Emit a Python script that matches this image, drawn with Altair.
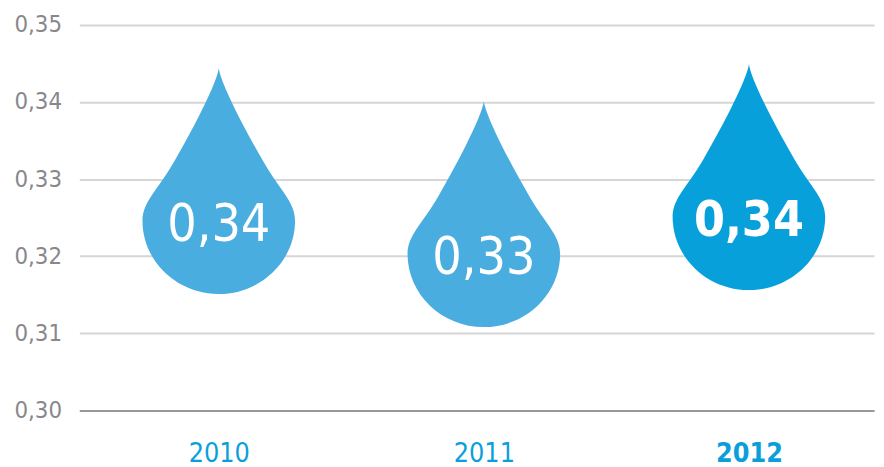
import altair as alt
import pandas as pd

years = [2010, 2011, 2012]
drop_levels = [0.3444, 0.3401, 0.3449]
value_labels = ["0,34", "0,33", "0,34"]
kinds = ["normal", "normal", "highlight"]
y_ticks = [0.30, 0.31, 0.32, 0.33, 0.34, 0.35]

df = pd.DataFrame({"year": years, "level": drop_levels, "label": value_labels, "kind": kinds})

FONT = "DejaVu Sans Condensed, Roboto, sans-serif"
DROP = ("M0,0 C0.03,0.2 0.31,0.75 0.6,1.25 C0.8,1.6 1,1.75 1,2.0 "
        "C1,2.53 0.55,2.96 0,2.96 C-0.55,2.96 -1,2.53 -1,2.0 "
        "C-1,1.75 -0.8,1.6 -0.6,1.25 C-0.31,0.75 -0.03,0.2 0,0 Z")

x = alt.X("year:Q",
          scale=alt.Scale(domain=[2009.474, 2012.472], nice=False, zero=False),
          axis=alt.Axis(values=years, format="d", title=None, grid=False, ticks=False,
                        domain=True, domainColor="#98989c", domainWidth=2,
                        labelFontSize=27, labelColor="#0a9fdb", labelFont=FONT,
                        labelPadding=31,
                        labelFontWeight={"expr": "datum.value == 2012 ? 'bold' : 'normal'"}))
y = alt.Y("level:Q",
          scale=alt.Scale(domain=[0.30, 0.35], nice=False, zero=False),
          axis=alt.Axis(values=y_ticks, title=None, domain=False, ticks=False, grid=True,
                        gridColor="#d6d6d6", gridWidth=2,
                        labelExpr="replace(format(datum.value, '.2f'), '.', ',')",
                        labelFontSize=24, labelColor="#88888c", labelFont=FONT,
                        labelPadding=18))

base = alt.Chart(df)

drops = base.mark_point(shape=DROP, filled=True, size=23716, opacity=1, strokeWidth=0).encode(
    x=x, y=y,
    color=alt.Color("kind:N", scale=alt.Scale(domain=["normal", "highlight"],
                                              range=["#4aaddf", "#08a0db"]), legend=None))

txt_normal = base.transform_filter(alt.datum.kind == "normal").mark_text(
    dy=158, baseline="middle", color="white", fontSize=52, font=FONT).encode(
    x=x, y=y, text="label:N")
txt_bold = base.transform_filter(alt.datum.kind == "highlight").mark_text(
    dy=158, baseline="middle", color="white", fontSize=50, font=FONT, fontWeight="bold").encode(
    x=x, y=y, text="label:N")

chart = alt.layer(drops, txt_normal, txt_bold).properties(
    width=802, height=389, autosize="none",
    padding={"left": 72, "top": 15, "right": 2, "bottom": 55},
).configure_view(stroke=None)

chart.save("out.html", embed_options={"renderer": "svg", "actions": False})
